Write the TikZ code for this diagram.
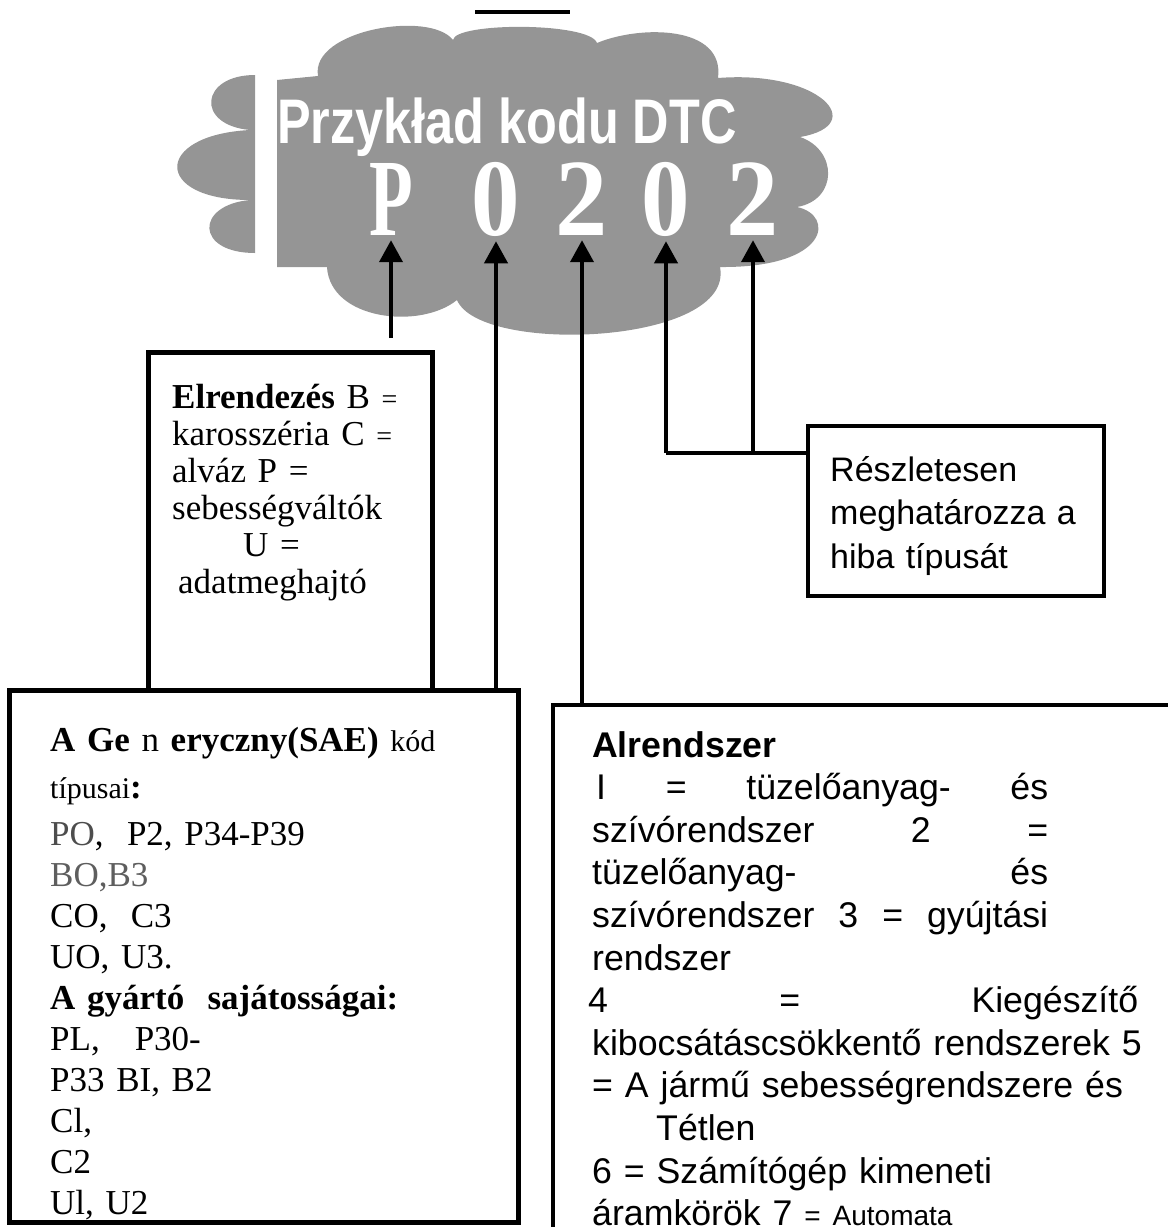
\documentclass[tikz,border=0pt]{standalone}
\usepackage{fontspec}
\usepackage{graphicx}
\setmainfont{Liberation Serif}
\setsansfont{Liberation Sans}
\usetikzlibrary{arrows.meta}
\definecolor{cloudgray}{HTML}{959595}
\definecolor{codegray}{HTML}{4D4D4D}
\definecolor{codegraylight}{HTML}{5E5E5E}
\newcommand{\setfs}[2]{\fontsize{#1}{#2}\selectfont}

\begin{document}
\begin{tikzpicture}[x=1pt,y=-1pt,
  box/.style={draw,line width=5pt,inner sep=0pt,outer sep=0pt,anchor=north west},
  thinbox/.style={draw,line width=3.5pt,inner sep=0pt,outer sep=0pt,anchor=north west},
  wire/.style={line width=4pt},
  pointer/.style={line width=4pt,shorten >=5pt,-{Triangle[length=22pt,width=23pt]}},
  digit/.style={text=white,inner sep=0pt,anchor=base,font=\setfs{110}{110}\bfseries},
  boxtext/.style={anchor=base west,inner sep=0pt,align=left}]
\useasboundingbox (0,0) rectangle (1168,1227);

\draw[line width=4pt] (475,12) -- (570,12);

\fill[cloudgray] (277,80) -- (318,76) .. controls (310,30) and (430,10) .. (453,40)
  .. controls (455,22) and (590,22) .. (597,43)
  .. controls (640,25) and (725,25) .. (718,78)
  .. controls (820,70) and (870,125) .. (800,137)
  .. controls (838,150) and (838,200) .. (797,207)
  .. controls (835,215) and (830,268) .. (720,267)
  .. controls (735,345) and (480,355) .. (457,300)
  .. controls (420,330) and (330,320) .. (327,267)
  -- (277,267) -- cycle;
\fill[cloudgray] (255,75) .. controls (200,75) and (195,125) .. (250,130)
  .. controls (153,135) and (153,200) .. (250,200)
  .. controls (195,205) and (195,253) .. (255,253) -- cycle;

\node[text=white,inner sep=0pt,anchor=base west,font=\sffamily\bfseries\setfs{63}{63}] (title) at (277,143) {\scalebox{0.8}[1]{Przykład kodu DTC}};
\node[digit] (code1) at (391,235) {\scalebox{0.65}[1]{P}};
\node[digit] (code2) at (496,235) {\scalebox{0.88}[1]{0}};
\node[digit] (code3) at (582,235) {\scalebox{0.95}[1]{2}};
\node[digit] (code4) at (666,235) {\scalebox{0.88}[1]{0}};
\node[digit] (code5) at (753,235) {\scalebox{0.95}[1]{2}};

\node[box,minimum width=284pt,minimum height=338pt] (layout) at (148,352) {};
\node[box,minimum width=509pt,minimum height=532pt] (generic) at (9,690) {};
\node[thinbox,minimum width=700pt,minimum height=600pt] (subsystem) at (553,705) {};
\node[thinbox,minimum width=296pt,minimum height=170pt] (detail) at (808,426) {};

\node[boxtext,text width=250pt,font=\setfs{35}{37}] (layouttext) at (172,408) {\textbf{Elrendezés} B {\setfs{28}{37}=}\\karosszéria C {\setfs{28}{37}=}\\alváz P =\\sebességváltók\\\hspace*{71pt}U =\\\hspace*{6pt}adatmeghajtó};
\node[boxtext,text width=460pt,font=\setfs{35}{41.1}] (generictext) at (50,751) {\textbf{A Ge} n \textbf{eryczny(SAE)} {\setfs{30}{41.1}kód}\\[5.9pt]{\setfs{30}{41.1}típusai}\textbf{:}\\[5.9pt]{\color{codegray}PO}, \ P2, P34-P39\\{\color{codegraylight}BO,B3}\\CO, \ C3\\UO, U3.\\\textbf{A gyártó \ sajátosságai:}\\PL, \ \ P30-\\P33 BI, B2\\Cl,\\C2\\Ul, U2};
\node[boxtext,text width=560pt,font=\sffamily\setfs{35.7}{42.6}] (subsystemtext) at (592,757) {\textbf{Alrendszer}\\\makebox[456pt][s]{\hspace*{4pt}I\hfill=\hfill tüzelőanyag-\hfill és}\\\makebox[456pt][s]{szívórendszer\hfill 2\hfill =}\\\makebox[456pt][s]{tüzelőanyag-\hfill és}\\\makebox[456pt][s]{szívórendszer\hfill 3\hfill =\hfill gyújtási}\\rendszer\\\makebox[546pt][s]{\hspace*{-4pt}4\hfill =\hfill Kiegészítő}\\kibocsátáscsökkentő rendszerek 5\\= A jármű sebességrendszere és\\\hspace*{64pt}Tétlen\\6 = Számítógép kimeneti\\áramkörök 7 {\setfs{28}{42.6}= Automata}};
\node[boxtext,text width=270pt,font=\sffamily\setfs{34}{43.5}] (detailtext) at (830,481) {Részletesen\\meghatározza a\\hiba típusát};

\coordinate (pfoot) at (391,338);
\coordinate (join4) at (666,453);
\coordinate (join5) at (753,453);
\draw[pointer] (pfoot) -- (code1.south);
\draw[pointer] (generic.north -| code2) -- (code2.south);
\draw[pointer] (subsystem.north -| code3) -- (code3.south);
\draw[pointer] (join4) -- (code4.south);
\draw[pointer] (join5) -- (code5.south);
\draw[wire] (join4) -- (detail.west |- join4);
\end{tikzpicture}
\end{document}
